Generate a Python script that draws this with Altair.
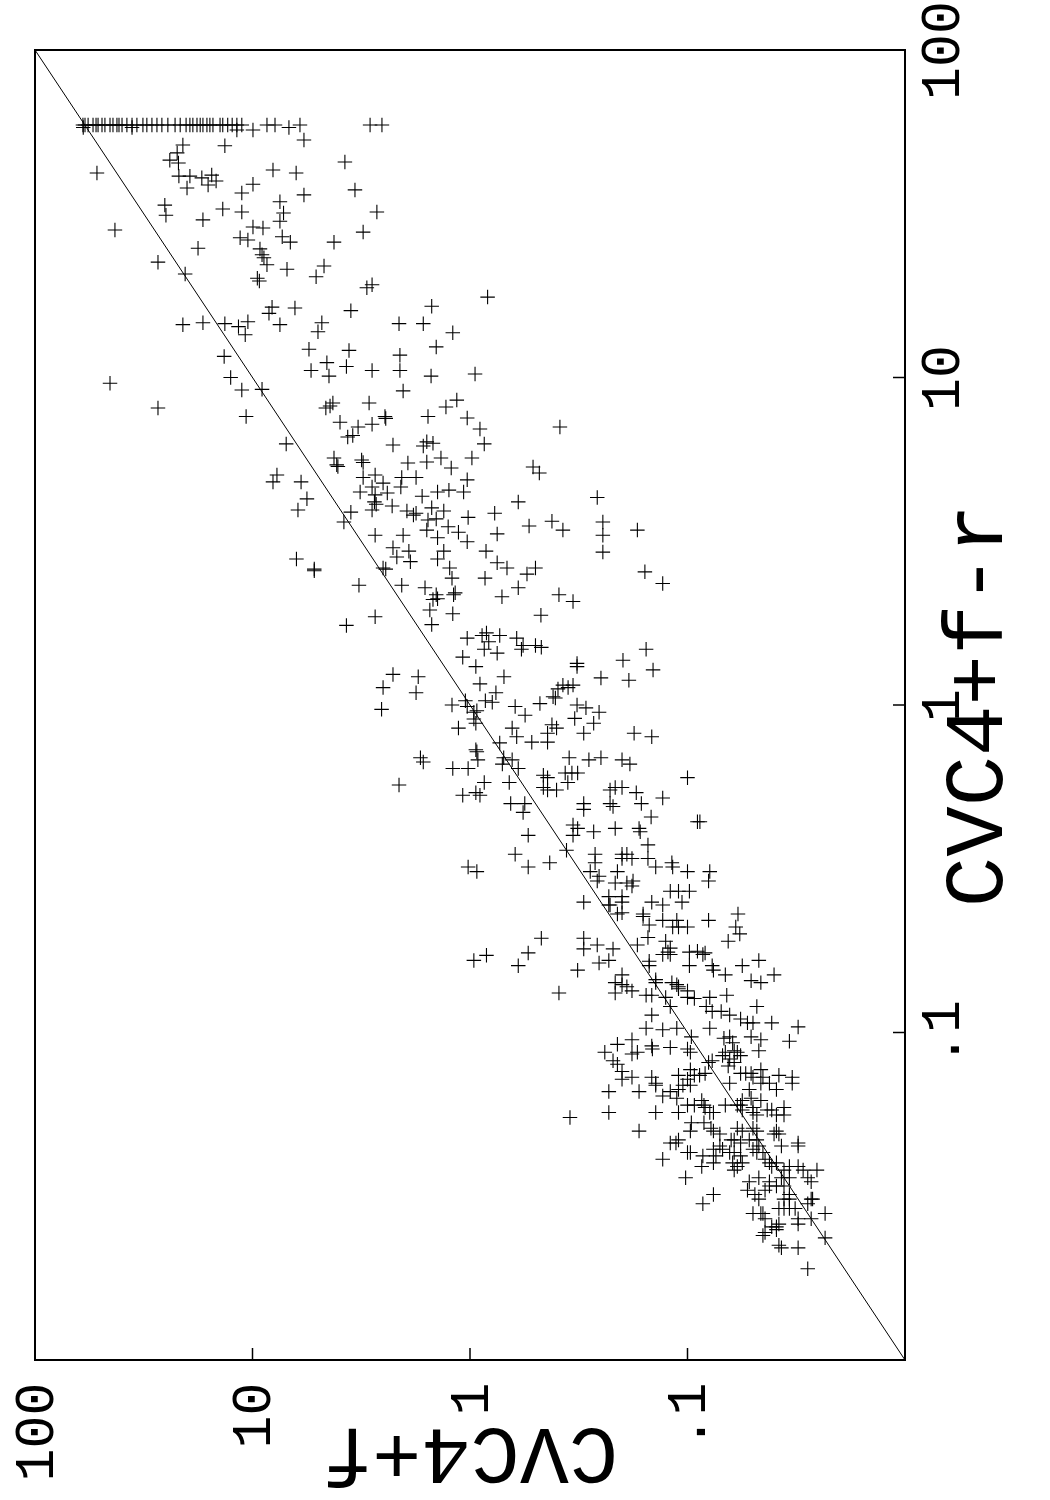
import altair as alt
import pandas as pd

# (CVC4+f, CVC4+f-r) run times in seconds
timeouts = [(60.2, 59), (58.9, 59), (57.0, 59), (54.1, 59), (52.4, 59), (51.3, 59), (49.2, 59),
            (47.7, 59), (45.2, 59), (43.8, 59), (42.0, 59), (41.1, 59), (39.8, 59), (37.8, 59),
            (35.8, 59), (34.0, 59), (31.9, 59), (30.6, 59), (29.0, 59), (27.5, 59), (26.1, 59),
            (24.5, 59), (22.7, 59), (21.5, 59), (20.2, 59), (19.4, 59), (18.8, 59), (18.0, 59),
            (17.4, 59), (16.9, 59), (16.2, 59), (15.7, 59), (15.2, 59), (14.1, 59), (13.7, 59),
            (13.0, 59), (12.4, 59), (11.8, 59), (11.2, 59), (8.58, 59), (7.88, 59), (6.05, 59),
            (2.88, 59), (2.54, 59), (60, 58), (35.8, 58), (11.8, 57), (9.95, 57), (6.8, 58)]

upper = [(5.8, 53.1), (20.9, 51.3), (13.4, 51), (22.2, 48.5), (24.0, 46.1), (21.9, 45.2), (3.76, 45.5),
         (51.9, 42.1), (8.05, 43.0), (6.3, 42.1), (21.8, 41.2), (19.4, 41.2), (17.1, 40.7), (15.4, 41.5),
         (14.7, 39.8), (16.0, 38.7), (20.0, 37.9), (9.95, 38.9), (11.2, 36.6), (5.8, 36.1), (3.38, 37.4),
         (25.3, 33.6), (25.0, 31.3), (13.7, 32.7), (11.2, 32.0), (7.48, 34.4), (7.2, 31.8), (7.48, 30.0),
         (2.68, 32.0), (16.9, 30.3), (42.9, 28.2), (9.95, 28.8), (8.95, 28.6), (3.1, 27.8), (11.4, 26.7),
         (10.5, 26.3), (7.3, 26.9), (6.7, 25.9), (4.22, 25.9), (17.8, 24.8), (9.24, 24.7), (9.04, 23.7),
         (8.86, 23.2), (8.58, 22.1), (27.2, 22.5), (20.4, 20.7), (6.94, 21.4), (4.69, 21.9), (5.1, 20.3),
         (9.5, 20.1), (9.3, 19.7), (2.82, 19.2), (2.98, 18.8), (8.13, 16.4), (8.4, 15.7), (6.38, 16.3),
         (3.53, 16.0), (0.83, 17.6), (1.5, 16.5), (20.9, 14.5), (16.9, 14.7), (13.4, 14.6), (11.6, 14.3),
         (10.5, 14.8), (7.48, 14.5), (4.8, 14.7), (2.12, 14.6), (1.64, 14.6)]

mid_a = [(10.8, 13.5), (5.0, 13.8), (13.5, 11.6), (5.5, 12.2), (3.6, 12.1), (4.55, 11.1), (3.7, 10.8),
         (5.38, 10.5), (4.45, 10.1), (2.82, 10.5), (12.6, 10.0), (11.2, 9.16), (9.04, 9.2), (27.2, 8.07),
         (10.7, 7.6), (4.27, 8.36), (4.4, 8.18), (4.6, 8.07), (2.91, 8.36), (3.96, 7.3), (3.27, 7.06),
         (2.82, 7.2), (3.65, 6.58), (3.46, 6.65), (7.0, 6.27), (4.22, 5.68), (4.1, 5.41), (4.05, 5.35),
         (3.15, 5.6), (3.1, 5.5), (7.72, 5.04), (8.05, 4.8), (5.98, 4.8), (3.1, 4.95), (2.73, 5.04),
         (2.82, 4.63), (2.73, 4.38), (2.75, 4.17), (3.2, 4.47), (5.62, 4.26), (6.18, 3.94), (3.53, 3.88),
         (3.8, 3.62), (2.82, 3.94), (2.73, 3.3), (6.28, 2.79), (5.2, 2.6), (45.2, 9.6)]

mid_b = [(1.2, 13.7), (1.43, 12.4), (2.1, 11.7), (2.1, 10.5), (1.51, 10.1), (0.948, 10.25), (2.03, 9.1),
         (1.15, 8.53), (1.29, 8.13), (2.46, 7.6), (2.44, 7.5), (1.56, 7.6), (1.03, 7.52), (0.9, 6.96),
         (0.386, 7.06), (2.26, 6.22), (1.58, 6.36), (1.64, 6.18), (1.48, 6.3), (0.86, 6.27), (1.93, 5.48),
         (1.58, 5.52), (1.36, 5.68), (1.22, 5.29), (0.98, 5.68), (0.513, 5.33), (0.48, 5.11), (2.51, 4.76),
         (2.06, 4.95), (2.08, 4.63), (1.77, 4.95), (1.03, 4.87), (2.4, 4.44), (1.66, 4.34), (1.41, 4.47),
         (1.25, 4.53), (1.07, 4.47), (2.7, 4.1), (2.28, 4.05), (1.95, 3.91), (1.77, 3.85), (1.82, 3.8),
         (1.5, 4.0), (1.32, 3.91), (0.6, 4.17), (0.26, 4.3), (1.56, 3.67), (1.43, 3.7), (1.58, 3.42),
         (1.02, 3.74), (0.77, 3.85), (1.26, 3.5), (2.03, 3.3), (1.41, 3.24), (1.13, 3.37), (1.03, 3.15),
         (0.75, 3.33), (0.535, 3.52), (0.42, 3.64), (0.374, 3.42), (0.245, 3.62), (0.245, 3.3),
         (0.245, 2.93), (2.26, 3.02), (2.17, 2.83), (1.91, 2.95), (1.88, 2.74), (1.41, 2.79), (1.32, 2.95),
         (0.844, 2.95), (0.75, 2.72), (0.676, 2.62), (2.51, 2.62), (1.24, 2.62), (0.5, 2.62), (0.17, 3.42)]

mid_c = [(5.2, 2.57), (3.24, 2.32), (2.06, 2.32), (2.44, 2.6), (1.21, 2.44), (1.61, 2.28), (1.43, 2.17),
         (1.48, 2.1), (1.41, 2.11), (1.19, 2.17), (1.17, 2.2), (0.853, 2.44), (0.713, 2.14), (2.73, 1.86),
         (3.7, 1.75), (1.53, 1.95), (1.2, 1.9), (1.5, 1.76), (1.03, 1.6), (0.88, 1.63), (0.84, 1.66),
         (0.82, 1.56), (0.73, 1.63), (0.61, 1.6), (0.86, 1.48), (0.75, 1.44), (1.08, 1.4), (0.94, 1.31),
         (0.698, 1.22), (2.26, 1.24), (1.73, 1.22), (2.51, 1.13), (1.77, 1.09), (0.9, 1.16), (0.85, 1.03),
         (0.76, 1.09), (0.79, 1.02), (1.05, 1.03), (1.21, 1.0), (1.03, 0.99), (0.96, 0.95), (0.93, 0.96),
         (2.55, 0.97), (0.62, 0.99), (0.96, 0.906), (0.94, 0.88), (1.13, 0.85), (0.64, 0.85), (0.61, 0.8),
         (0.73, 0.766), (0.94, 0.73), (0.93, 0.72), (0.92, 0.68), (0.7, 0.69), (0.64, 0.68), (0.71, 0.66),
         (1.69, 0.69), (1.64, 0.67), (1.2, 0.64), (1.02, 0.64), (2.12, 0.57), (0.86, 0.58), (0.66, 0.58),
         (1.08, 0.53), (0.94, 0.54), (0.9, 0.53), (0.65, 0.5)]

mid_d = [(0.547, 2.51), (0.6, 2.28), (0.39, 2.17), (0.336, 2.07), (0.157, 2.55), (0.13, 2.35), (0.472, 1.88),
         (0.57, 1.52), (0.58, 1.48), (0.5, 1.52), (0.47, 1.5), (0.322, 1.34), (0.322, 1.31), (0.198, 1.37),
         (0.155, 1.48), (0.144, 1.28), (0.25, 1.21), (0.186, 1.19), (0.374, 1.15), (0.354, 1.13),
         (0.336, 1.15), (0.394, 1.12), (0.415, 1.06), (0.405, 1.05), (0.477, 1.01), (0.558, 0.93),
         (0.322, 1.0), (0.293, 0.98), (0.255, 0.95), (0.33, 0.91), (0.27, 0.88), (0.42, 0.87), (0.4, 0.85),
         (0.44, 0.82), (0.3, 0.82), (0.52, 0.77), (0.44, 0.77), (0.176, 0.82), (0.146, 0.8), (0.6, 0.64),
         (0.35, 0.69), (0.284, 0.68), (0.25, 0.69), (0.2, 0.68), (0.184, 0.66), (0.46, 0.61), (0.44, 0.6),
         (0.365, 0.62), (0.34, 0.62), (0.32, 0.62), (0.46, 0.56), (0.44, 0.55), (0.4, 0.55), (0.355, 0.58),
         (0.227, 0.55), (0.215, 0.56), (0.2, 0.56), (0.172, 0.54), (0.13, 0.52), (0.1, 0.6), (0.56, 0.5),
         (0.3, 0.5), (0.227, 0.5), (0.163, 0.5)]

low_a = [(0.57, 0.47), (0.3, 0.48), (0.22, 0.49), (0.54, 0.4), (0.336, 0.43), (0.32, 0.42), (0.336, 0.4),
         (0.27, 0.41), (0.215, 0.42), (0.62, 0.35), (0.36, 0.36), (0.266, 0.35), (0.266, 0.33), (1.02, 0.32),
         (0.93, 0.31), (0.54, 0.32), (0.43, 0.33), (0.28, 0.31), (0.26, 0.29), (0.255, 0.3), (0.21, 0.31),
         (0.23, 0.26), (0.23, 0.245), (0.227, 0.245), (0.3, 0.25), (0.21, 0.23), (0.47, 0.194), (0.3, 0.194),
         (0.26, 0.185), (0.3, 0.18), (0.22, 0.18), (0.54, 0.175), (0.96, 0.166), (0.84, 0.172), (0.6, 0.16),
         (0.255, 0.163), (0.23, 0.166), (0.32, 0.155), (0.39, 0.132), (0.215, 0.142), (0.215, 0.132)]

low_b = [(0.147, 0.455), (0.167, 0.42), (0.165, 0.41), (0.0877, 0.44), (0.09, 0.44), (0.152, 0.374),
         (0.152, 0.34), (0.2, 0.35), (0.19, 0.35), (0.18, 0.34), (0.2, 0.34), (0.14, 0.32), (0.118, 0.33),
         (0.117, 0.32), (0.1, 0.31), (0.079, 0.31), (0.08, 0.29), (0.215, 0.286), (0.19, 0.286), (0.18, 0.28),
         (0.178, 0.29), (0.2, 0.26), (0.2, 0.25), (0.12, 0.27), (0.11, 0.27), (0.098, 0.27), (0.106, 0.25),
         (0.146, 0.25), (0.13, 0.245), (0.2, 0.232), (0.16, 0.23), (0.16, 0.226), (0.13, 0.22), (0.112, 0.22),
         (0.15, 0.213), (0.117, 0.21), (0.11, 0.21), (0.1, 0.21), (0.08, 0.22), (0.0586, 0.23), (0.06, 0.21),
         (0.0575, 0.2), (0.065, 0.19), (0.152, 0.195), (0.126, 0.19), (0.17, 0.185), (0.12, 0.181),
         (0.123, 0.176), (0.13, 0.173), (0.12, 0.173), (0.098, 0.176), (0.09, 0.177), (0.083, 0.175),
         (0.085, 0.173), (0.15, 0.165), (0.15, 0.16), (0.098, 0.16), (0.077, 0.16), (0.076, 0.155),
         (0.056, 0.16), (0.047, 0.166), (0.067, 0.15), (0.051, 0.144), (0.046, 0.142), (0.04, 0.15),
         (0.14, 0.145), (0.14, 0.142), (0.2, 0.15), (0.2, 0.14), (0.19, 0.138), (0.18, 0.134), (0.118, 0.142),
         (0.112, 0.14), (0.11, 0.138), (0.11, 0.136), (0.1, 0.134), (0.155, 0.13), (0.146, 0.13),
         (0.126, 0.128), (0.1, 0.128), (0.093, 0.127), (0.079, 0.128), (0.066, 0.13), (0.12, 0.12),
         (0.082, 0.12), (0.077, 0.116), (0.07, 0.116), (0.064, 0.113), (0.048, 0.12), (0.146, 0.113),
         (0.057, 0.11), (0.053, 0.107), (0.05, 0.107), (0.041, 0.107), (0.155, 0.103), (0.13, 0.102),
         (0.112, 0.103), (0.079, 0.103), (0.031, 0.104), (0.096, 0.097), (0.068, 0.096), (0.064, 0.097),
         (0.062, 0.093), (0.051, 0.097), (0.046, 0.095), (0.034, 0.094), (0.18, 0.095)]

low_c = [(0.21, 0.092), (0.24, 0.087), (0.146, 0.091), (0.145, 0.089), (0.12, 0.09), (0.18, 0.086),
         (0.17, 0.087), (0.22, 0.082), (0.21, 0.08), (0.1, 0.089), (0.097, 0.087), (0.08, 0.081),
         (0.077, 0.082), (0.097, 0.077), (0.2, 0.076), (0.2, 0.072), (0.18, 0.073), (0.146, 0.073),
         (0.14, 0.07), (0.14, 0.069), (0.11, 0.074), (0.1, 0.072), (0.093, 0.074), (0.088, 0.074),
         (0.083, 0.075), (0.105, 0.069), (0.097, 0.069), (0.11, 0.067), (0.23, 0.066), (0.167, 0.066),
         (0.13, 0.064), (0.12, 0.066), (0.112, 0.063), (0.1, 0.06), (0.093, 0.06), (0.086, 0.062),
         (0.084, 0.06), (0.083, 0.059), (0.076, 0.057), (0.079, 0.057), (0.23, 0.057), (0.14, 0.057),
         (0.11, 0.057), (0.096, 0.053), (0.097, 0.05), (0.084, 0.053), (0.078, 0.051), (0.076, 0.05),
         (0.167, 0.05), (0.12, 0.046), (0.113, 0.046), (0.11, 0.047), (0.1, 0.043), (0.097, 0.043),
         (0.13, 0.041), (0.085, 0.042), (0.086, 0.039), (0.076, 0.044), (0.074, 0.042), (0.076, 0.04),
         (0.102, 0.036), (0.076, 0.032), (0.085, 0.03), (0.347, 0.055)]

low_d = [(0.061, 0.088), (0.047, 0.088), (0.069, 0.085), (0.067, 0.087), (0.059, 0.087), (0.057, 0.085),
         (0.064, 0.083), (0.061, 0.081), (0.065, 0.079), (0.057, 0.075), (0.054, 0.075), (0.051, 0.075),
         (0.05, 0.073), (0.046, 0.077), (0.045, 0.073), (0.038, 0.074), (0.033, 0.073), (0.033, 0.07),
         (0.064, 0.07), (0.046, 0.07), (0.042, 0.07), (0.039, 0.067), (0.052, 0.067), (0.051, 0.063),
         (0.046, 0.062), (0.056, 0.062), (0.057, 0.06), (0.067, 0.06), (0.059, 0.06), (0.056, 0.058),
         (0.05, 0.059), (0.05, 0.057), (0.048, 0.056), (0.043, 0.058), (0.041, 0.058), (0.036, 0.059),
         (0.036, 0.056), (0.039, 0.056), (0.059, 0.051), (0.056, 0.05), (0.05, 0.051), (0.048, 0.05),
         (0.039, 0.05), (0.038, 0.049), (0.04, 0.049), (0.071, 0.049), (0.063, 0.047), (0.061, 0.047),
         (0.057, 0.046), (0.052, 0.047), (0.048, 0.047), (0.047, 0.045), (0.037, 0.045), (0.031, 0.046),
         (0.031, 0.045), (0.071, 0.045), (0.069, 0.044), (0.064, 0.043), (0.061, 0.043), (0.05, 0.044),
         (0.048, 0.043), (0.045, 0.043)]

low_e = [(0.057, 0.042), (0.044, 0.041), (0.062, 0.04), (0.059, 0.039), (0.061, 0.038), (0.056, 0.04),
         (0.042, 0.04), (0.041, 0.039), (0.039, 0.04), (0.034, 0.039), (0.031, 0.039), (0.0294, 0.038),
         (0.028, 0.036), (0.0254, 0.038), (0.027, 0.035), (0.036, 0.038), (0.034, 0.036), (0.037, 0.036),
         (0.052, 0.035), (0.047, 0.036), (0.042, 0.035), (0.039, 0.034), (0.042, 0.034), (0.044, 0.033),
         (0.053, 0.033), (0.049, 0.032), (0.047, 0.031), (0.036, 0.034), (0.034, 0.032), (0.036, 0.031),
         (0.034, 0.031), (0.027, 0.031), (0.028, 0.03), (0.0266, 0.031), (0.038, 0.029), (0.036, 0.029),
         (0.034, 0.029), (0.032, 0.029), (0.05, 0.028), (0.046, 0.028), (0.044, 0.027), (0.045, 0.028),
         (0.031, 0.027), (0.031, 0.026), (0.027, 0.027), (0.0233, 0.028), (0.041, 0.0255), (0.039, 0.025),
         (0.039, 0.0255), (0.038, 0.026), (0.045, 0.024), (0.044, 0.0245), (0.0233, 0.0236),
         (0.038, 0.0224), (0.037, 0.022), (0.031, 0.022), (0.028, 0.019)]

groups = [timeouts, upper, mid_a, mid_b, mid_c, mid_d, low_a, low_b, low_c, low_d, low_e]
df = pd.DataFrame([{"cvc4_f": f, "cvc4_f_r": r} for g in groups for f, r in g])

tick_values = [0.1, 1, 10, 100]
inner_ticks = pd.DataFrame({"cvc4_f": [0.1, 1, 10], "cvc4_f_r": [0.1, 1, 10]})
diag = pd.DataFrame({"cvc4_f": [0.01, 100], "cvc4_f_r": [0.01, 100]})

W, H = 870, 1310
FONT = "Liberation Mono"
label_expr = "datum.value >= 1 ? format(datum.value, 'd') : '.1'"

xscale = alt.Scale(type="log", domain=[0.01, 100], reverse=True, nice=False)
yscale = alt.Scale(type="log", domain=[0.01, 100], nice=False)

xaxis = alt.Axis(values=tick_values, labelExpr=label_expr, orient="bottom", domain=False,
                 ticks=False, tickSize=0, grid=False, labelAngle=270, labelAlign="right",
                 labelBaseline="middle", labelPadding=22, labelFont=FONT, labelFontSize=55,
                 labelColor="black", labelOverlap=False, labelFlush=False,
                 title="CVC4+f", titleFont=FONT, titleFontSize=82, titleFontWeight="normal",
                 titleColor="black", titleAngle=180, titleAlign="center",
                 titleBaseline="alphabetic", titleX=W / 2, titleY=68)

yaxis = alt.Axis(values=tick_values, labelExpr=label_expr, orient="right", domain=False,
                 ticks=False, tickSize=0, grid=False, labelAngle=270, labelAlign="center",
                 labelBaseline="top", labelPadding=10, labelFont=FONT, labelFontSize=55,
                 labelColor="black", labelOverlap=False, labelFlush=False,
                 title="CVC4+f-r", titleFont=FONT, titleFontSize=84, titleFontWeight="normal",
                 titleColor="black", titleAngle=270, titleAlign="center",
                 titleBaseline="alphabetic", titleX=96, titleY=H / 2)

X = alt.X("cvc4_f:Q", scale=xscale, axis=xaxis)
Y = alt.Y("cvc4_f_r:Q", scale=yscale, axis=yaxis)

points = alt.Chart(df).mark_point(
    shape="M-1,0L1,0M0,-1L0,1", size=210, filled=False, color="black",
    strokeWidth=1.1, opacity=1
).encode(x=X, y=Y)

diag_line = alt.Chart(diag).mark_line(color="black", strokeWidth=1).encode(x=X, y=Y)

xticks = alt.Chart(inner_ticks).mark_rule(color="black", strokeWidth=1.5).encode(
    x=X, y=alt.value(H - 12), y2=alt.value(H),
)

yticks = alt.Chart(inner_ticks).mark_rule(color="black", strokeWidth=1.5).encode(
    y=Y, x=alt.value(W - 12), x2=alt.value(W),
)

chart = alt.layer(points, diag_line, xticks, yticks).properties(
    width=W, height=H,
    padding={"left": 35, "top": 50, "right": 145, "bottom": 140},
    autosize=alt.AutoSizeParams(type="none"),
    background="white",
).configure_view(stroke="black", strokeWidth=2)

chart.save("out.html", embed_options={"renderer": "svg", "actions": False})
